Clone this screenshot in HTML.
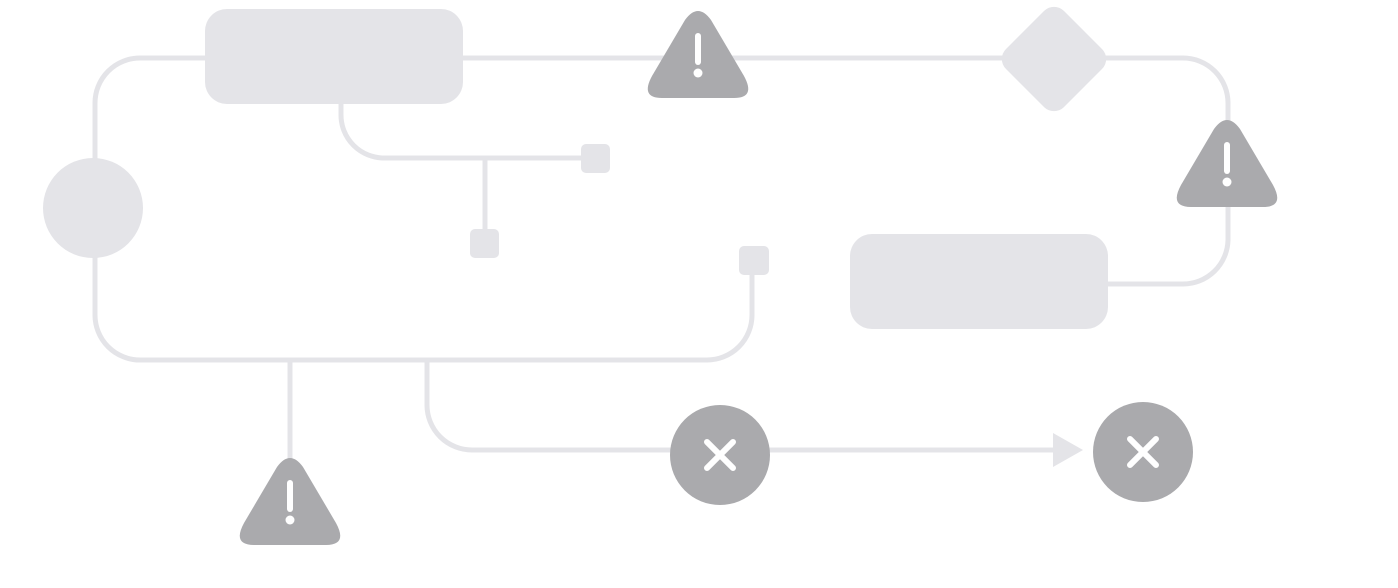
<!DOCTYPE html>
<html><head><meta charset="utf-8"><style>html,body{margin:0;padding:0;background:#fff}svg{display:block}</style></head>
<body>
<svg width="1398" height="588" viewBox="0 0 1398 588" xmlns="http://www.w3.org/2000/svg">
<defs>
<g id="warn">
<path d="M-13,8 Q0,-10 13,8 L46,64 Q58,86 36,86 L-36,86 Q-58,86 -46,64 Z" fill="#aaaaad"/>
<line x1="0" y1="24" x2="0" y2="50" stroke="#fff" stroke-width="6" stroke-linecap="round"/>
<circle cx="0" cy="61" r="4.5" fill="#fff"/>
</g>
<g id="xc">
<circle cx="0" cy="0" r="50" fill="#aaaaad"/>
<path d="M-13,-13 L13,13 M13,-13 L-13,13" stroke="#fff" stroke-width="6" stroke-linecap="round"/>
</g>
</defs>
<g fill="none" stroke="#e4e4e8" stroke-width="5">
<path d="M205,58 L140,58 A45,45 0 0 0 95,103 L95,160"/>
<path d="M95,256 L95,315 A45,45 0 0 0 140,360 L707,360 A45,45 0 0 0 752,315 L752,272"/>
<path d="M463,58 L1183,58 A45,45 0 0 1 1228,103 L1228,240 A45,45 0 0 1 1183,284 L1106,284"/>
<path d="M341,102 L341,115 A43,43 0 0 0 384,158 L584,158"/>
<path d="M485,158 L485,232"/>
<path d="M290,360 L290,462"/>
<path d="M427,360 L427,405 A45,45 0 0 0 472,450 L1056,450"/>
</g>
<path d="M1053,433 L1083,450 L1053,467 Z" fill="#e4e4e8"/>
<rect x="205" y="9" width="258" height="95" rx="22" fill="#e4e4e8"/>
<rect x="850" y="234" width="258" height="95" rx="22" fill="#e4e4e8"/>
<circle cx="93" cy="208" r="50" fill="#e4e4e8"/>
<rect x="1013" y="18" width="82" height="82" rx="14" transform="rotate(45 1054 59)" fill="#e4e4e8"/>
<rect x="581" y="144" width="29" height="29" rx="5" fill="#e4e4e8"/>
<rect x="470" y="229" width="29" height="29" rx="5" fill="#e4e4e8"/>
<rect x="739" y="246" width="30" height="29" rx="5" fill="#e4e4e8"/>
<use href="#warn" x="698" y="12"/>
<use href="#warn" x="1227" y="121"/>
<use href="#warn" x="290" y="459"/>
<use href="#xc" x="720" y="455"/>
<use href="#xc" x="1143" y="452"/>
</svg>
</body></html>
